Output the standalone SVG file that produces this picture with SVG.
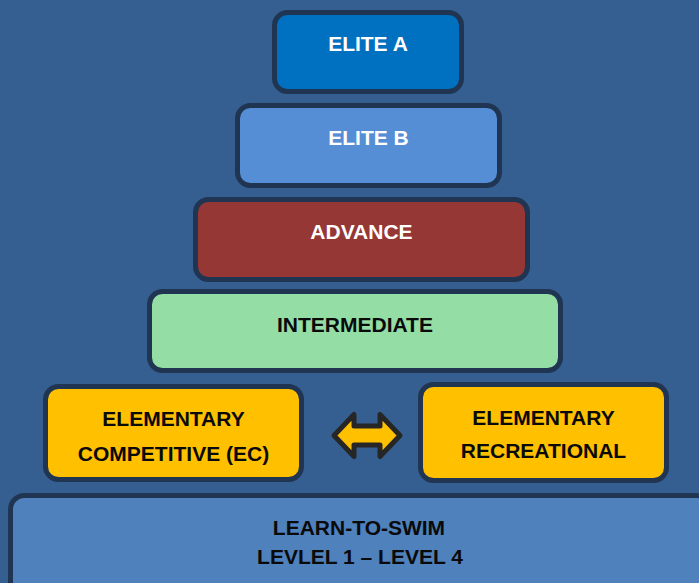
<svg xmlns="http://www.w3.org/2000/svg" width="699" height="583" viewBox="0 0 699 583">
  <style>
    .box { stroke: #1F3552; stroke-width: 5; }
    .lbl { font-family: "Liberation Sans", Arial, sans-serif; font-weight: bold; font-size: 21px; text-anchor: middle; }
    .light { fill: #FFFFFF; }
    .dark { fill: #0A0A0A; }
  </style>
  <rect x="0" y="0" width="699" height="583" fill="#365F91"/>

  <g id="elite-a">
    <rect class="box" x="274.5" y="12.5" width="187" height="79" rx="13" fill="#0070C0"/>
    <text class="lbl light" x="368" y="51">ELITE A</text>
  </g>

  <g id="elite-b">
    <rect class="box" x="237.5" y="105.5" width="262" height="80" rx="13" fill="#558ED5"/>
    <text class="lbl light" x="368.5" y="145">ELITE B</text>
  </g>

  <g id="advance">
    <rect class="box" x="195.5" y="199.5" width="332" height="80" rx="13" fill="#953735"/>
    <text class="lbl light" x="361.5" y="239">ADVANCE</text>
  </g>

  <g id="intermediate">
    <rect class="box" x="149.5" y="291.5" width="411" height="79" rx="13" fill="#94DDA4"/>
    <text class="lbl dark" x="355" y="332">INTERMEDIATE</text>
  </g>

  <g id="elementary-competitive">
    <rect class="box" x="45.5" y="386.5" width="256" height="93" rx="13" fill="#FFC000"/>
    <text class="lbl dark" x="173.5" y="426">ELEMENTARY</text>
    <text class="lbl dark" x="173.5" y="461">COMPETITIVE (EC)</text>
  </g>

  <g id="elementary-recreational">
    <rect class="box" x="420.5" y="384.5" width="246" height="96" rx="13" fill="#FFC000"/>
    <text class="lbl dark" x="543.5" y="425">ELEMENTARY</text>
    <text class="lbl dark" x="543.5" y="458">RECREATIONAL</text>
  </g>

  <g id="learn-to-swim">
    <rect class="box" x="10.5" y="495.5" width="700" height="100" rx="14" fill="#4F81BD"/>
    <text class="lbl dark" x="359" y="535">LEARN-TO-SWIM</text>
    <text class="lbl dark" x="360" y="564">LEVLEL 1 – LEVEL 4</text>
  </g>

  <g id="connectors">
    <polygon points="334,435.5 354,414.5 354,426 380,426 380,414.5 400,435.5 380,456.5 380,445 354,445 354,456.5"
             fill="#FFC000" stroke="#262626" stroke-width="5" stroke-linejoin="round"/>
  </g>
</svg>
